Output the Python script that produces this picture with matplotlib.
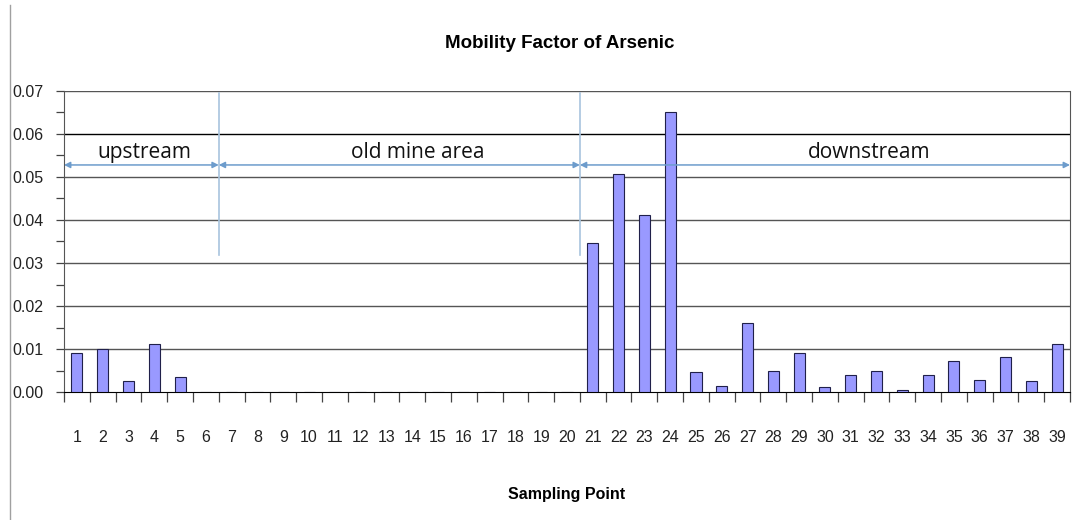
import matplotlib
matplotlib.use("Agg")
import matplotlib.pyplot as plt
from matplotlib.lines import Line2D
from matplotlib.ticker import FixedLocator, FormatStrFormatter

# Sampling points and mobility factor values
points = list(range(1, 40))
mobility = [0.0091, 0.0100, 0.0026, 0.0112, 0.0034,
            0, 0, 0, 0, 0, 0, 0, 0, 0, 0, 0, 0, 0, 0, 0,
            0.0347, 0.0506, 0.0412, 0.0650,
            0.0046, 0.0014, 0.0161, 0.0050, 0.0091, 0.0012, 0.0040, 0.0048,
            0.0005, 0.0040, 0.0072, 0.0029, 0.0081, 0.0026, 0.0112]

# Zones along the river: (label, first point, last point, label position)
zones = [("upstream", 1, 6, 3.6),
         ("old mine area", 7, 20, 14.2),
         ("downstream", 21, 39, 31.7)]

SANS = ["Liberation Sans", "DejaVu Sans"]

fig = plt.figure(figsize=(10.72, 5.2), dpi=100)
ax = fig.add_axes([64 / 1072, 1 - 392 / 520, (1070 - 64) / 1072, (392 - 91) / 520])

ax.set_xlim(0.5, 39.5)
ax.set_ylim(0, 0.07)

# horizontal grid
for v in [0.01, 0.02, 0.03, 0.04, 0.05, 0.06, 0.07]:
    ax.axhline(v, color="black" if abs(v - 0.06) < 1e-9 else "#555555",
               lw=1.0, zorder=1)

ax.bar(points, mobility, width=0.43, color="#9999ff", edgecolor="#20204a",
       linewidth=0.8, zorder=3)

# zone separators
for b in [6.5, 20.5]:
    ax.plot([b, b], [0.0318, 0.0695], color="#a8c4de", lw=1.2, zorder=2)

# zone arrows and labels
arrow_y = 0.0528
for label, first, last, lx in zones:
    ax.annotate("", xy=(last + 0.5, arrow_y), xytext=(first - 0.5, arrow_y),
                arrowprops=dict(arrowstyle="<|-|>", color="#6d9ccc", lw=1.1,
                                mutation_scale=9, shrinkA=0, shrinkB=0),
                zorder=4)
    ax.text(lx, arrow_y + 0.0005, label, ha="center", va="bottom",
            fontsize=15, family=["Open Sans", "DejaVu Sans"], color="#111111")

# spines
ax.spines["top"].set_visible(False)
ax.spines["left"].set_color("#555555")
ax.spines["right"].set_color("#555555")
ax.spines["bottom"].set_color("black")

# x ticks: marks between points, labels under points
ax.xaxis.set_major_locator(FixedLocator(points))
ax.xaxis.set_minor_locator(FixedLocator([p + 0.5 for p in range(0, 40)]))
ax.set_xticklabels([str(p) for p in points], family=SANS, fontsize=11.5,
                   color="#222222")
ax.tick_params(axis="x", which="major", length=0, pad=27)
ax.tick_params(axis="x", which="minor", length=7, width=0.9, color="#444444",
               direction="out")

# y ticks
ax.yaxis.set_major_locator(FixedLocator([i * 0.01 for i in range(8)]))
ax.yaxis.set_minor_locator(FixedLocator([0.005 + i * 0.01 for i in range(7)]))
ax.yaxis.set_major_formatter(FormatStrFormatter("%.2f"))
for t in ax.get_yticklabels():
    t.set_family(SANS)
    t.set_fontsize(11.5)
    t.set_color("#222222")
ax.tick_params(axis="y", which="both", length=6, width=0.9, color="#444444",
               direction="out", pad=9)

fig.text(560 / 1072, 1 - 43 / 520, "Mobility Factor of Arsenic", ha="center",
         va="center", fontsize=13.5, fontweight="bold", family=SANS)
fig.text(567 / 1072, 1 - 494 / 520, "Sampling Point", ha="center",
         va="center", fontsize=11.5, fontweight="bold", family=SANS)

# outer frame edge on the left
fig.add_artist(Line2D([10 / 1072, 10 / 1072], [0, 1 - 5 / 520],
                      transform=fig.transFigure, color="#a0a0a0", lw=1.0))

fig.savefig("out.png", dpi=100)
